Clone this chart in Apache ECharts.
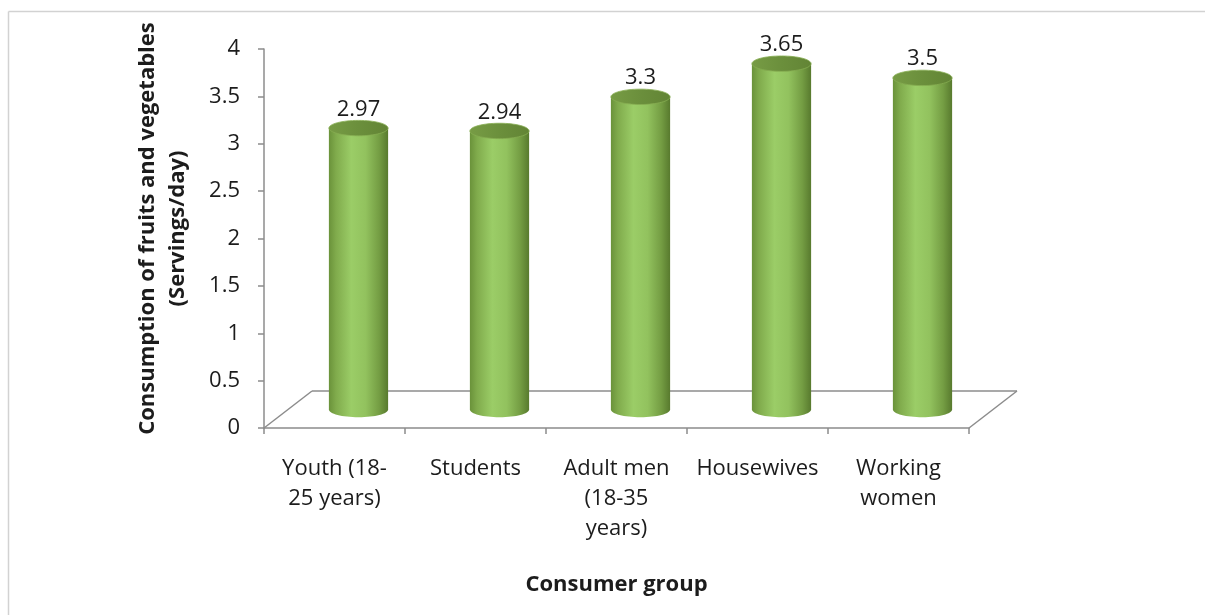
<!DOCTYPE html>
<html>
<head>
<meta charset="utf-8">
<title>Consumption of fruits and vegetables by consumer group</title>
<script src="https://cdn.jsdelivr.net/npm/echarts@6/dist/echarts.min.js"></script>
<style>
  html, body { margin: 0; padding: 0; background: #ffffff; }
  #chart { width: 1205px; height: 615px; }
</style>
</head>
<body>
<div id="chart"></div>
<script>
// Consumer groups and their mean daily servings of fruits and vegetables
const categories = [
  'Youth (18-\n25 years)',
  'Students',
  'Adult men\n(18-35\nyears)',
  'Housewives',
  'Working\nwomen'
];
const servings = [2.97, 2.94, 3.3, 3.65, 3.5];
const yTicks = { min: 0, max: 4, interval: 0.5 };

const FONT = '"Open Sans", "Noto Sans", sans-serif';
const FS = 22;
const TEXT = '#1c1c1c';
const AXIS = '#8c8c8c';
// oblique offset of the floor's back edge (pseudo-3D depth)
const DEPTH = [48, -37];

const bodyFill = new echarts.graphic.LinearGradient(0, 0, 1, 0, [
  { offset: 0, color: '#6a923a' },
  { offset: 0.12, color: '#80ab4c' },
  { offset: 0.38, color: '#9bcd67' },
  { offset: 0.62, color: '#92c25e' },
  { offset: 0.85, color: '#749d43' },
  { offset: 1, color: '#587a2e' }
]);
const topFill = new echarts.graphic.LinearGradient(0, 0, 1, 0, [
  { offset: 0, color: '#779c45' },
  { offset: 0.5, color: '#6b8f3c' },
  { offset: 1, color: '#628435' }
]);

function renderCylinder(params, api) {
  const i = api.value(0);
  const v = api.value(1);
  const topPt = api.coord([i, v]);
  const basePt = api.coord([i, 0]);
  const band = api.size([1, 0])[0];
  const rx = band * 0.21;
  const ry = rx * 0.26;
  const cx = topPt[0] + DEPTH[0] / 2;
  const topY = topPt[1] + DEPTH[1] / 2;
  const baseY = basePt[1] + DEPTH[1] / 2;
  return {
    type: 'group',
    children: [
      { type: 'ellipse', shape: { cx: cx, cy: baseY, rx: rx, ry: ry }, style: { fill: bodyFill } },
      { type: 'rect', shape: { x: cx - rx, y: topY, width: rx * 2, height: baseY - topY }, style: { fill: bodyFill } },
      { type: 'ellipse', shape: { cx: cx, cy: topY, rx: rx, ry: ry }, style: { fill: topFill, stroke: '#86ad52', lineWidth: 0.8 } },
      {
        type: 'text',
        x: cx, y: topY - ry,
        style: {
          text: String(v), fill: TEXT, font: FS + 'px ' + FONT,
          align: 'center', verticalAlign: 'bottom'
        }
      }
    ]
  };
}

function renderFloor(params, api) {
  const cs = params.coordSys;
  const x0 = cs.x, x1 = cs.x + cs.width, y0 = cs.y + cs.height;
  const line = (a, b, c, d) => ({
    type: 'line', shape: { x1: a, y1: b, x2: c, y2: d },
    style: { stroke: AXIS, lineWidth: 1.5 }
  });
  return {
    type: 'group',
    children: [
      line(x0 + DEPTH[0], y0 + DEPTH[1], x1 + DEPTH[0], y0 + DEPTH[1]),
      line(x0, y0, x0 + DEPTH[0], y0 + DEPTH[1]),
      line(x1, y0, x1 + DEPTH[0], y0 + DEPTH[1])
    ]
  };
}

const chart = echarts.init(document.getElementById('chart'), null, { renderer: 'canvas' });
chart.setOption({
  animation: false,
  backgroundColor: '#ffffff',
  textStyle: { fontFamily: FONT },
  graphic: [
    { type: 'line', shape: { x1: 8.5, y1: 11.5, x2: 1205, y2: 11.5 }, style: { stroke: '#d2d2d2', lineWidth: 1.5 }, silent: true },
    { type: 'line', shape: { x1: 8.5, y1: 11.5, x2: 8.5, y2: 615 }, style: { stroke: '#d2d2d2', lineWidth: 1.5 }, silent: true }
  ],
  grid: { left: 264, top: 49, width: 705, height: 379, containLabel: false, outerBoundsMode: 'none' },
  xAxis: {
    type: 'category',
    data: categories,
    boundaryGap: true,
    name: 'Consumer group',
    nameLocation: 'middle',
    nameGap: 142,
    nameTextStyle: { fontFamily: FONT, fontSize: FS, fontWeight: 'bold', color: TEXT, lineHeight: 30 },
    axisLine: { show: true, lineStyle: { color: AXIS, width: 1.5 } },
    axisTick: { show: true, length: 6, alignWithLabel: false, lineStyle: { color: AXIS, width: 1.5 } },
    axisLabel: { interval: 0, margin: 26, fontFamily: FONT, fontSize: FS, lineHeight: 30, color: TEXT, align: 'center' },
    splitLine: { show: false }
  },
  yAxis: {
    type: 'value',
    min: yTicks.min, max: yTicks.max, interval: yTicks.interval,
    name: 'Consumption of fruits and vegetables\n(Servings/day)',
    nameLocation: 'middle',
    nameRotate: 90,
    nameGap: 71,
    nameTextStyle: { fontFamily: FONT, fontSize: FS, fontWeight: 'bold', color: TEXT, lineHeight: 30, align: 'center', padding: [0, 0, 0, 20] },
    axisLine: { show: true, lineStyle: { color: AXIS, width: 1.5 } },
    axisTick: { show: true, length: 6, lineStyle: { color: AXIS, width: 1.5 } },
    axisLabel: { margin: 24, fontFamily: FONT, fontSize: FS, color: TEXT },
    splitLine: { show: false }
  },
  series: [
    {
      type: 'custom',
      name: 'floor',
      renderItem: renderFloor,
      data: [[0, 0]],
      clip: false,
      silent: true,
      z: 1
    },
    {
      type: 'custom',
      name: 'Servings/day',
      renderItem: renderCylinder,
      data: servings.map((v, i) => [i, v]),
      encode: { x: 0, y: 1 },
      clip: false,
      z: 3
    }
  ]
});
</script>
</body>
</html>
